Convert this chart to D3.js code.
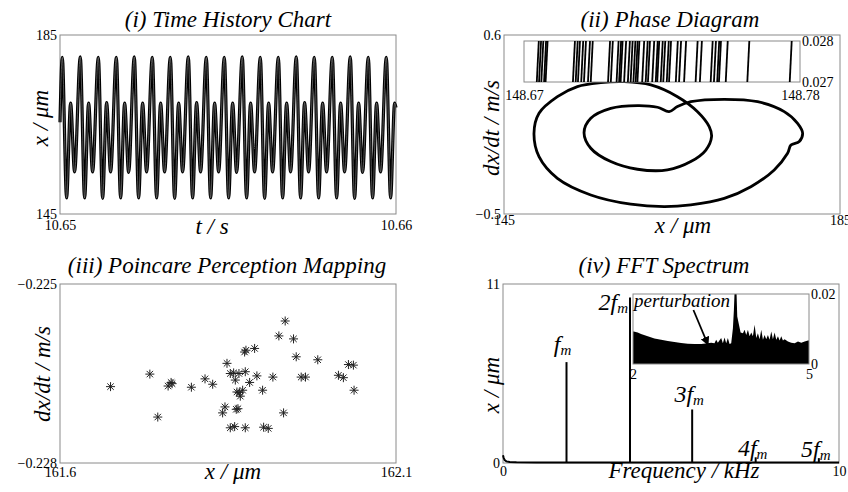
<!DOCTYPE html>
<html>
<head>
<meta charset="utf-8">
<script src="https://cdn.jsdelivr.net/npm/d3@7"></script>
<style>
body { margin: 0; background: #fff; }
text { font-family: "Liberation Serif", "Times New Roman", serif; fill: #000; }
.tick text { font-size: 14px; }
.lab { font-size: 23px; font-style: italic; }
.ttl { font-size: 23px; font-style: italic; }
.frame { fill: none; stroke: #8a8a8a; stroke-width: 1; }
</style>
</head>
<body>
<svg id="chart" width="848" height="492"></svg>
<script>
// (i) time history: extremes, t in ms after 10.65 s
var thT = [0,
    0.068, 0.196, 0.315, 0.434,
    0.604, 0.732, 0.851, 0.970,
    1.140, 1.268, 1.387, 1.506,
    1.676, 1.804, 1.923, 2.042,
    2.211, 2.339, 2.458, 2.577,
    2.747, 2.875, 2.994, 3.113,
    3.283, 3.411, 3.530, 3.649,
    3.818, 3.946, 4.065, 4.184,
    4.354, 4.482, 4.601, 4.720,
    4.890, 5.018, 5.137, 5.256,
    5.425, 5.553, 5.672, 5.791,
    5.961, 6.089, 6.208, 6.327,
    6.497, 6.625, 6.744, 6.863,
    7.032, 7.160, 7.279, 7.398,
    7.568, 7.696, 7.815, 7.934,
    8.104, 8.232, 8.351, 8.470,
    8.639, 8.767, 8.886, 9.005,
    9.175, 9.303, 9.422, 9.541,
    9.711, 9.839, 9.958, 10.0]
var thX = [165.5,
    180.0, 148.6, 169.8, 154.4,
    180.1, 148.6, 169.8, 154.4,
    180.0, 148.5, 169.9, 154.4,
    180.0, 148.6, 169.8, 154.3,
    180.1, 148.6, 169.8, 154.4,
    180.0, 148.6, 169.8, 154.4,
    180.0, 148.5, 169.8, 154.4,
    180.1, 148.6, 169.9, 154.4,
    180.0, 148.6, 169.8, 154.4,
    180.0, 148.6, 169.8, 154.3,
    180.1, 148.6, 169.8, 154.4,
    180.0, 148.5, 169.8, 154.4,
    180.0, 148.6, 169.8, 154.4,
    180.1, 148.6, 169.9, 154.4,
    180.0, 148.6, 169.8, 154.4,
    180.0, 148.6, 169.8, 154.4,
    180.1, 148.5, 169.8, 154.3,
    180.0, 148.6, 169.8, 154.4,
    180.0, 148.6, 169.8, 168.8]
var thXTicks = [0, 10]
var thXTickLabels = ["10.65", "10.66"]
var thYTicks = [145, 185]

// (ii) phase diagram, one closed orbit
var phaseX = [164.66, 165.65, 167.24, 171.22, 175.19, 178.36, 179.95, 180.55, 180.15, 179.16,
    178.76, 177.17, 174.39, 171.22, 167.24, 164.07, 160.09, 155.33, 151.36, 149.17,
    148.57, 149.17, 151.36, 153.74, 156.52, 159.30, 162.48, 165.65, 168.04, 169.43,
    169.71, 169.03, 167.24, 164.46, 160.89, 157.71, 155.33, 154.53, 155.33, 157.71,
    160.89, 163.27]
var phaseV = [0.129, 0.160, 0.190, 0.205, 0.190, 0.129, 0.057, -0.004, -0.055, -0.076,
    -0.127, -0.229, -0.332, -0.404, -0.444, -0.455, -0.440, -0.383, -0.281, -0.148,
    -0.004, 0.119, 0.221, 0.283, 0.307, 0.313, 0.293, 0.221, 0.129, 0.037,
    -0.025, -0.107, -0.178, -0.229, -0.225, -0.178, -0.096, 0.0, 0.088, 0.149,
    0.166, 0.156]
var phXTicks = [145, 185]
var phYTicks = [-0.5, 0.6]
// inset: crossings of the orbit
var crossX = [148.6751, 148.6760, 148.6769, 148.6780, 148.6786,
    148.6895, 148.6906, 148.6915, 148.6928, 148.6939, 148.6955, 148.6966,
    148.7035, 148.7046, 148.7069, 148.7079, 148.7085, 148.7099, 148.7114, 148.7125,
    148.7136, 148.7145, 148.7152, 148.7171, 148.7185, 148.7194, 148.7211, 148.7225,
    148.7231, 148.7245, 148.7255, 148.7269, 148.7278, 148.7305, 148.7318, 148.7338,
    148.7384, 148.7401, 148.7444, 148.7457, 148.7470, 148.7477, 148.7504, 148.7590,
    148.7759]
var crossXTicks = [148.67, 148.78]
var crossYTicks = [0.027, 0.028]

// (iii) poincare points
var pcX = [161.6752, 161.7337, 161.7455, 161.7609, 161.7653, 161.7668, 161.7955, 161.8158,
    161.8272, 161.8420, 161.8455, 161.8485, 161.8534, 161.8534, 161.8584, 161.8599,
    161.8609, 161.8623, 161.8633, 161.8648, 161.8663, 161.8668, 161.8683, 161.8718,
    161.8747, 161.8757, 161.8757, 161.8767, 161.8822, 161.8896, 161.8930, 161.9015,
    161.9030, 161.9099, 161.9168, 161.9257, 161.9327, 161.9351, 161.9475, 161.9515,
    161.9589, 161.9653, 161.9836, 162.0143, 162.0217, 162.0292, 162.0366, 162.0376]
var pcY = [-0.22672, -0.22651, -0.22723, -0.22671, -0.22665, -0.22667, -0.22673, -0.22659,
    -0.22668, -0.22716, -0.22706, -0.22633, -0.22650, -0.22741, -0.22649, -0.22739,
    -0.22661, -0.22710, -0.22681, -0.22709, -0.22650, -0.22682, -0.22688, -0.22678,
    -0.22614, -0.22647, -0.22741, -0.22611, -0.22665, -0.22608, -0.22654, -0.22678,
    -0.22740, -0.22742, -0.22656, -0.22587, -0.22716, -0.22562, -0.22592, -0.22622,
    -0.22656, -0.22656, -0.22627, -0.22653, -0.22657, -0.22635, -0.22636, -0.22678]
var pcXTicks = [161.6, 162.1]
var pcYTicks = [-0.228, -0.225]

// (iv) FFT spectrum
var spikeF = [1.89, 3.78, 5.63, 7.52, 9.40]
var spikeA = [6.2, 10.17, 3.29, 0.35, 0.3]
var spikeNames = ["", "2", "3", "4", "5"]
var floorF = [0, 0.02, 0.05, 0.1, 0.2, 0.4, 1, 3, 6, 10]
var floorA = [0.47, 0.32, 0.18, 0.1, 0.06, 0.04, 0.03, 0.03, 0.03, 0.03]
var fftXTicks = [0, 10]
var fftYTicks = [0, 11]
var insF = [2.0, 2.012, 2.080, 2.137, 2.251, 2.365, 2.479, 2.593, 2.706, 2.820, 2.934, 3.048, 3.162,
    3.276, 3.332, 3.389, 3.418, 3.446, 3.503, 3.532, 3.560, 3.589, 3.617, 3.646, 3.674,
    3.703, 3.720, 3.737, 3.760, 3.777, 3.800, 3.834, 3.874, 3.902, 3.930, 3.959, 3.987,
    4.016, 4.044, 4.073, 4.101, 4.129, 4.158, 4.186, 4.215, 4.243, 4.271, 4.300, 4.328,
    4.357, 4.385, 4.414, 4.442, 4.471, 4.499, 4.527, 4.556, 4.584, 4.641, 4.698, 4.755,
    4.812, 4.869, 4.926, 4.983, 5.0]
var insA = [0.0093, 0.0093, 0.0090, 0.0086, 0.0079, 0.0073, 0.0069, 0.0066, 0.0063, 0.0060, 0.0058, 0.0057, 0.0057,
    0.0059, 0.0061, 0.0059, 0.0069, 0.0061, 0.0074, 0.0059, 0.0076, 0.0059, 0.0074, 0.0057, 0.0059,
    0.0102, 0.0155, 0.0230, 0.0230, 0.0136, 0.0117, 0.0090, 0.0088, 0.0098, 0.0083, 0.0098, 0.0079,
    0.0090, 0.0079, 0.0112, 0.0074, 0.0088, 0.0071, 0.0098, 0.0069, 0.0083, 0.0071, 0.0083, 0.0069,
    0.0093, 0.0071, 0.0090, 0.0069, 0.0079, 0.0067, 0.0079, 0.0067, 0.0071, 0.0064, 0.0061, 0.0059,
    0.0064, 0.0061, 0.0064, 0.0067, 0.0067]
var insXTicks = [2, 5]
var insYTicks = [0, 0.02]

var svg = d3.select("#chart")

function frame(x, y) {
    svg.append("rect").attr("class", "frame")
        .attr("x", x.range()[0]).attr("y", y.range()[1])
        .attr("width", x.range()[1] - x.range()[0])
        .attr("height", y.range()[0] - y.range()[1])
}

function axes(x, y, xt, yt, xpad, xfmt, yfmt) {
    var gx = svg.append("g")
        .attr("transform", "translate(0," + y.range()[0] + ")")
        .call(d3.axisBottom(x).tickValues(xt).tickSize(0).tickPadding(xpad).tickFormat(xfmt))
    gx.select(".domain").remove()
    var gy = svg.append("g")
        .attr("transform", "translate(" + x.range()[0] + ",0)")
        .call(d3.axisLeft(y).tickValues(yt).tickSize(0).tickPadding(3).tickFormat(yfmt))
    gy.select(".domain").remove()
    svg.selectAll(".tick text").attr("fill", "#000")
}

function title(txt, x, y) {
    svg.append("text").attr("class", "ttl").attr("x", x).attr("y", y)
        .attr("text-anchor", "middle").text(txt)
}

function xlabel(txt, x, y) {
    svg.append("text").attr("class", "lab").attr("x", x).attr("y", y)
        .attr("text-anchor", "middle").text(txt)
}

function ylabel(txt, x, y) {
    svg.append("text").attr("class", "lab")
        .attr("transform", "translate(" + x + "," + y + ") rotate(-90)")
        .attr("text-anchor", "middle").text(txt)
}

// ---------- (i) ----------
var x1 = d3.scaleLinear().domain([0, 10]).range([60, 396])
var y1 = d3.scaleLinear().domain([145, 185]).range([214, 35])
frame(x1, y1)
var thLine = d3.line().x(function(d, i) { return x1(thT[i]) })
    .y(function(d) { return y1(d) }).curve(d3.curveMonotoneX)
svg.append("path").datum(thX).attr("d", thLine)
    .attr("fill", "none").attr("stroke", "#000").attr("stroke-width", 3.2)
svg.append("path").datum(thX).attr("d", thLine)
    .attr("fill", "none").attr("stroke", "#777").attr("stroke-width", 0.7)
axes(x1, y1, thXTicks, thYTicks, 6, function(d, i) { return thXTickLabels[i] }, d3.format("d"))
title("(i) Time History Chart", 228, 27)
xlabel("t / s", 212, 234)
ylabel("x / \u03bcm", 48, 118)

// ---------- (ii) ----------
var x2 = d3.scaleLinear().domain([145, 185]).range([504, 840])
var y2 = d3.scaleLinear().domain([-0.5, 0.6]).range([214, 35])
frame(x2, y2)
var phLine = d3.line().x(function(d, i) { return x2(phaseX[i]) })
    .y(function(d) { return y2(d) }).curve(d3.curveCatmullRomClosed.alpha(0.5))
svg.append("path").datum(phaseV).attr("d", phLine)
    .attr("fill", "none").attr("stroke", "#000").attr("stroke-width", 2.8)
    .attr("stroke-linejoin", "round")
axes(x2, y2, phXTicks, phYTicks, 1, d3.format("d"), d3.format(".1f"))
title("(ii) Phase Diagram", 670, 27)
xlabel("x / \u03bcm", 683, 233)
ylabel("dx/dt / m/s", 499, 128)

// inset
var xi = d3.scaleLinear().domain([148.67, 148.78]).range([524, 800])
var yi = d3.scaleLinear().domain([0.027, 0.028]).range([82, 41])
svg.append("rect").attr("x", 524).attr("y", 41).attr("width", 276).attr("height", 41)
    .attr("fill", "#fff").attr("stroke", "#8a8a8a")
svg.append("g").selectAll("line").data(crossX).enter().append("line")
    .attr("x1", function(d) { return xi(d) })
    .attr("x2", function(d) { return xi(d) + 2 })
    .attr("y1", yi(0.027)).attr("y2", yi(0.028))
    .attr("stroke", "#000").attr("stroke-width", 1.8)
svg.append("g").attr("transform", "translate(0," + yi(0.027) + ")")
    .call(d3.axisBottom(xi).tickValues(crossXTicks).tickSize(0).tickPadding(8).tickFormat(d3.format(".2f")))
    .select(".domain").remove()
svg.append("g").attr("transform", "translate(" + xi.range()[1] + ",0)")
    .call(d3.axisRight(yi).tickValues(crossYTicks).tickSize(0).tickPadding(2).tickFormat(d3.format(".3f")))
    .select(".domain").remove()

// ---------- (iii) ----------
var x3 = d3.scaleLinear().domain([161.6, 162.1]).range([60, 396])
var y3 = d3.scaleLinear().domain([-0.228, -0.225]).range([463, 284])
frame(x3, y3)
var star = "M-4.5,0H4.5M0,-4.5V4.5M-3.2,-3.2L3.2,3.2M-3.2,3.2L3.2,-3.2"
svg.append("g").selectAll("path").data(pcX).enter().append("path")
    .attr("transform", function(d, i) { return "translate(" + x3(d) + "," + y3(pcY[i]) + ")" })
    .attr("d", star).attr("stroke", "#222").attr("stroke-width", 1).attr("fill", "none")
axes(x3, y3, pcXTicks, pcYTicks, 4, d3.format(".1f"), d3.format(".3f"))
title("(iii) Poincare Perception Mapping", 227, 273)
xlabel("x / \u03bcm", 233, 479)
ylabel("dx/dt / m/s", 50, 374)

// ---------- (iv) ----------
var x4 = d3.scaleLinear().domain([0, 10]).range([503, 839])
var y4 = d3.scaleLinear().domain([0, 11]).range([463, 284])
frame(x4, y4)
var floorLine = d3.line().x(function(d, i) { return x4(floorF[i]) }).y(function(d) { return y4(d) })
svg.append("path").datum(floorA).attr("d", floorLine)
    .attr("fill", "none").attr("stroke", "#000").attr("stroke-width", 2)
svg.append("g").selectAll("line").data(spikeF).enter().append("line")
    .attr("x1", function(d) { return x4(d) }).attr("x2", function(d) { return x4(d) })
    .attr("y1", y4(0)).attr("y2", function(d, i) { return y4(spikeA[i]) })
    .attr("stroke", "#000").attr("stroke-width", 2)
// label placement (style only)
var spikeLabDx = [-4, -2, -3, -3, -3]
var spikeLabDy = [-10, 12, -7, -1, -1]
var spikeLabAnchor = ["middle", "end", "middle", "middle", "middle"]
var sl = svg.append("g").selectAll("text").data(spikeF).enter().append("text")
    .attr("x", function(d, i) { return x4(d) + spikeLabDx[i] })
    .attr("y", function(d, i) { return y4(spikeA[i]) + spikeLabDy[i] })
    .attr("text-anchor", function(d, i) { return spikeLabAnchor[i] })
    .style("font-size", "24px").style("font-style", "italic")
sl.append("tspan").text(function(d, i) { return spikeNames[i] + "f" })
sl.append("tspan").attr("dy", 3).style("font-size", "15px").text("m")
axes(x4, y4, fftXTicks, fftYTicks, 3, d3.format("d"), d3.format("d"))
title("(iv) FFT Spectrum", 664, 273)
xlabel("Frequency / kHz", 684, 478)
ylabel("x / \u03bcm", 499, 385)

// inset
var xf = d3.scaleLinear().domain([2, 5]).range([633, 809])
var yf = d3.scaleLinear().domain([0, 0.02]).range([364, 294])
svg.append("clipPath").attr("id", "fclip").append("rect")
    .attr("x", 633).attr("y", 294).attr("width", 176).attr("height", 70)
svg.append("rect").attr("x", 633).attr("y", 294).attr("width", 176).attr("height", 70)
    .attr("fill", "#fff")
var insArea = d3.area().x(function(d, i) { return xf(insF[i]) })
    .y0(yf(0)).y1(function(d) { return yf(d) })
svg.append("path").datum(insA).attr("d", insArea).attr("fill", "#000")
    .attr("clip-path", "url(#fclip)")
svg.append("rect").attr("x", 633).attr("y", 294).attr("width", 176).attr("height", 70)
    .attr("fill", "none").attr("stroke", "#8a8a8a")
svg.append("g").attr("transform", "translate(0," + yf(0) + ")")
    .call(d3.axisBottom(xf).tickValues(insXTicks).tickSize(0).tickPadding(5).tickFormat(d3.format("d")))
    .select(".domain").remove()
svg.append("g").attr("transform", "translate(" + xf.range()[1] + ",0)")
    .call(d3.axisRight(yf).tickValues(insYTicks).tickSize(0).tickPadding(2).tickFormat(function(d) { return d ? "0.02" : "0" }))
    .select(".domain").remove()
svg.append("text").attr("x", 634).attr("y", 307)
    .style("font-size", "19px").style("font-style", "italic").text("perturbation")
svg.append("defs").append("marker").attr("id", "arr")
    .attr("viewBox", "0 0 10 10").attr("refX", 9).attr("refY", 5)
    .attr("markerWidth", 5).attr("markerHeight", 5).attr("orient", "auto")
    .append("path").attr("d", "M0,0L10,5L0,10z").attr("fill", "#000")
svg.append("line").attr("x1", xf(3.03)).attr("y1", 310).attr("x2", xf(3.28)).attr("y2", 345)
    .attr("stroke", "#000").attr("stroke-width", 1.8).attr("marker-end", "url(#arr)")
</script>
</body>
</html>
